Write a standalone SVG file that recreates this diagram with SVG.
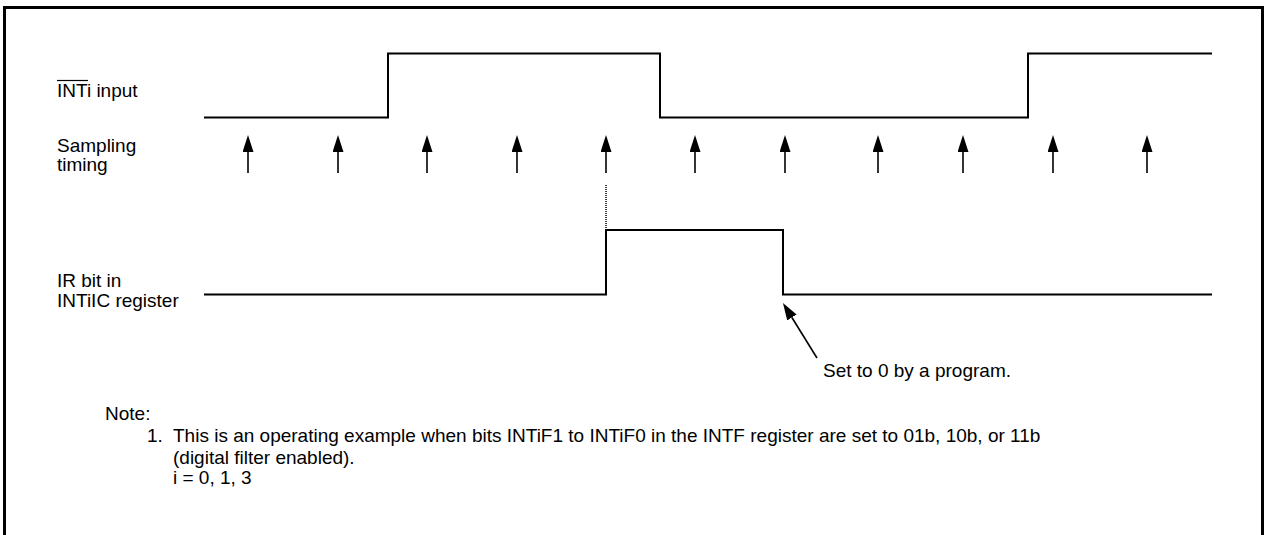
<svg xmlns="http://www.w3.org/2000/svg" width="1265" height="535" viewBox="0 0 1265 535">
  <style>
    .t { font-family: "Liberation Sans", Arial, sans-serif; font-size: 19px; fill: #000; }
    .wave { fill: none; stroke: #000; stroke-width: 2; }
    .arr { stroke: #000; stroke-width: 1.6; marker-end: url(#ah); }
  </style>
  <defs>
    <marker id="ah" viewBox="0 0 17 11" refX="0" refY="5.5" markerWidth="17" markerHeight="11" markerUnits="userSpaceOnUse" orient="auto">
      <path d="M0,0 L17,5.5 L0,11 z" fill="#000"/>
    </marker>
  </defs>
  <rect width="1265" height="535" fill="#fff"/>
  <path d="M4.5,535 V7.5 H1262.5 V535" fill="none" stroke="#000" stroke-width="3"/>

  <g id="inti-input">
    <text class="t" x="57" y="97">INTi input</text>
    <line x1="57" y1="80.5" x2="88" y2="80.5" stroke="#000" stroke-width="1.2"/>
    <polyline class="wave" points="204,117.5 388,117.5 388,53.5 660,53.5 660,117.5 1028,117.5 1028,53.5 1212,53.5"/>
  </g>

  <g id="sampling-timing">
    <text class="t" x="57" y="152">Sampling</text>
    <text class="t" x="57" y="171">timing</text>
  </g>

  <g id="ir-bit">
    <text class="t" x="57" y="287">IR bit in</text>
    <text class="t" x="57" y="307">INTiIC register</text>
    <polyline class="wave" points="204,294.5 606,294.5 606,230 783,230 783,294.5 1212,294.5"/>
  </g>

  <g id="note-program">
    <text class="t" x="823" y="377">Set to 0 by a program.</text>
  </g>

  <g id="notes">
    <text class="t" x="105" y="420">Note:</text>
    <text class="t" x="147" y="442">1.</text>
    <text class="t" x="173" y="442">This is an operating example when bits INTiF1 to INTiF0 in the INTF register are set to 01b, 10b, or 11b</text>
    <text class="t" x="173" y="464">(digital filter enabled).</text>
    <text class="t" x="173" y="484">i = 0, 1, 3</text>
  </g>

  <g id="connectors">
    <line class="arr" x1="248" y1="173" x2="248" y2="152"/>
    <line class="arr" x1="338" y1="173" x2="338" y2="152"/>
    <line class="arr" x1="427" y1="173" x2="427" y2="152"/>
    <line class="arr" x1="517" y1="173" x2="517" y2="152"/>
    <line class="arr" x1="606" y1="173" x2="606" y2="152"/>
    <line class="arr" x1="695" y1="173" x2="695" y2="152"/>
    <line class="arr" x1="785" y1="173" x2="785" y2="152"/>
    <line class="arr" x1="878" y1="173" x2="878" y2="152"/>
    <line class="arr" x1="963" y1="173" x2="963" y2="152"/>
    <line class="arr" x1="1053" y1="173" x2="1053" y2="152"/>
    <line class="arr" x1="1147" y1="173" x2="1147" y2="152"/>
    <line x1="606" y1="185" x2="606" y2="230" stroke="#000" stroke-width="1.5" stroke-dasharray="1,1"/>
    <line class="arr" x1="817" y1="358" x2="791.9" y2="317.5"/>
  </g>
</svg>
